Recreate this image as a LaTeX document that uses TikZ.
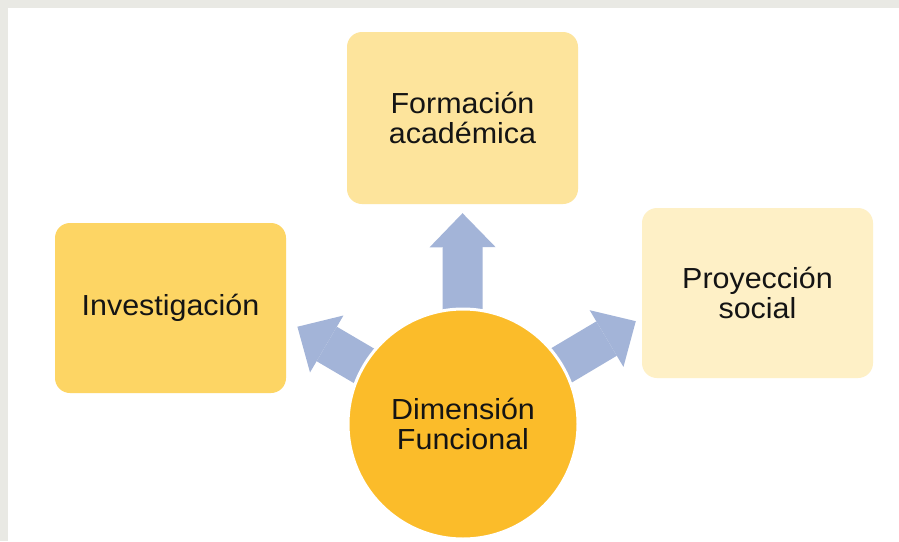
\documentclass[tikz,border=0pt]{standalone}
\usepackage{fontspec}
\setmainfont{Liberation Sans}[FakeStretch=1.05]
\usepackage{tikz}
\usetikzlibrary{arrows.meta,positioning,backgrounds}

\definecolor{framegray}{HTML}{E9E9E4}
\definecolor{formfill}{HTML}{FDE49C}
\definecolor{invfill}{HTML}{FDD564}
\definecolor{projfill}{HTML}{FEF0C6}
\definecolor{dimfill}{HTML}{FBBC2A}
\definecolor{arrowblue}{HTML}{A3B4D8}
\definecolor{txt}{HTML}{141414}

\begin{document}
\begin{tikzpicture}[x=1pt, y=-1pt, font=\fontsize{29}{30}\selectfont,
  box/.style={rounded corners=15pt, minimum width=231pt, minimum height=170pt, align=center, text=txt},
  bigarrow/.style={draw=arrowblue, line width=40pt, -{Triangle[length=34pt,width=66pt,line width=0pt]}}]
  \useasboundingbox (0,0) rectangle (899,541);
  % Frame
  \begin{scope}[on background layer]
    \fill[framegray] (0,0) rectangle (899,541);
    \fill[white] (8,8) rectangle (899,541);
  \end{scope}

  % Boxes around the hub
  \node[box, fill=formfill, minimum height=172pt] (form) at (462.5,118) {Formación\\académica};
  \node[box, fill=invfill] (inv) at (170.5,308) {Investigación};
  \node[box, fill=projfill] (proj) at (757.5,293) {Proyección\\social};

  % Hub
  \node[circle, fill=dimfill, draw=white, line width=3pt, minimum size=230pt, align=center, text=txt] (dim) at (463,424) {Dimensión\\Funcional};

  % Arrows
  \begin{scope}[on background layer]
    \draw[bigarrow, shorten >=9pt] (dim.center) -- (form.south);
    \draw[bigarrow, shorten >=13pt] (dim.center) -- (inv.354);
    \draw[bigarrow, shorten >=7pt] (dim.center) -- (proj.192);
  \end{scope}
\end{tikzpicture}
\end{document}
